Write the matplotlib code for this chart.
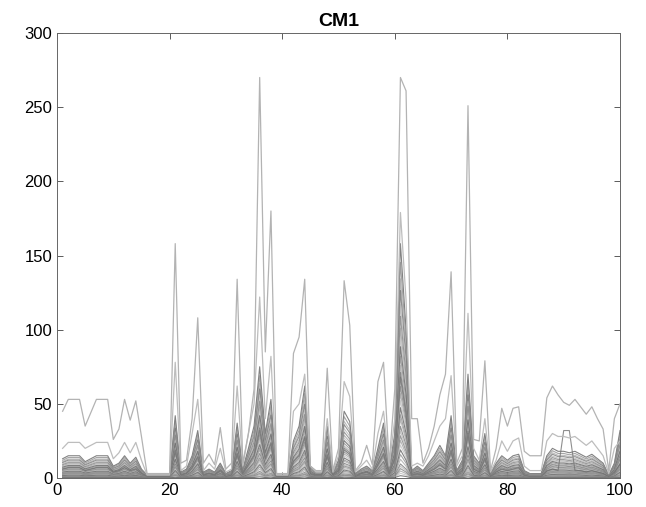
import numpy as np
import matplotlib
matplotlib.use("Agg")
import matplotlib.pyplot as plt

plt.rcParams['font.family'] = ['Liberation Sans', 'DejaVu Sans']

x_index = list(range(1, 101))

upper_line = [45, 53, 53, 53, 35, 44, 53, 53, 53, 26, 33, 53, 39, 52, 28, 3, 3, 3, 3, 3,
              158, 10, 12, 40, 108, 10, 16, 9, 34, 6, 10, 134, 10, 30, 60, 270, 85, 180, 3, 3,
              3, 84, 95, 134, 8, 5, 5, 74, 5, 20, 133, 103, 5, 10, 22, 9, 65, 78, 10, 60,
              270, 261, 40, 40, 10, 20, 35, 56, 70, 139, 10, 20, 251, 26, 25, 79, 5, 20, 47, 35,
              47, 48, 18, 15, 15, 15, 54, 62, 56, 51, 49, 53, 48, 43, 48, 40, 33, 5, 40, 50]

second_line = [20, 24, 24, 24, 20, 22, 24, 24, 24, 13, 17, 24, 17, 24, 12, 2, 2, 2, 2, 2,
               78, 5, 8, 30, 53, 5, 10, 6, 20, 4, 6, 62, 8, 30, 50, 122, 40, 82, 2, 2,
               2, 45, 50, 70, 8, 4, 4, 40, 4, 15, 65, 55, 4, 8, 12, 6, 30, 45, 8, 40,
               179, 120, 8, 10, 8, 15, 25, 35, 40, 69, 8, 15, 111, 20, 12, 40, 4, 12, 25, 18,
               25, 27, 8, 5, 5, 5, 25, 30, 28, 28, 27, 28, 25, 22, 25, 20, 15, 3, 20, 25]

plateau_line = [6, 7, 7, 7, 5, 6, 7, 7, 7, 4, 5, 7, 5, 6, 3, 1, 1, 1, 1, 1,
                18, 2, 3, 7, 14, 2, 3, 2, 5, 1, 2, 16, 3, 9, 15, 32, 13, 23, 1, 1,
                1, 11, 15, 27, 3, 2, 2, 15, 2, 5, 19, 16, 1, 3, 4, 2, 9, 16, 3, 13,
                68, 43, 2, 3, 2, 4, 6, 9, 6, 18, 2, 5, 30, 6, 4, 13, 1, 4, 6, 5,
                6, 7, 2, 1, 1, 1, 5, 6, 5, 32, 32, 5, 5, 4, 5, 4, 3, 1, 4, 9]

bundle_profile = [13, 15, 15, 15, 11, 13, 15, 15, 15, 8, 10, 15, 10, 14, 6, 2, 2, 2, 2, 2,
                  42, 4, 6, 15, 32, 4, 6, 4, 10, 3, 5, 37, 6, 20, 35, 75, 30, 53, 2, 2,
                  2, 25, 35, 62, 8, 4, 4, 35, 4, 12, 45, 38, 3, 6, 8, 5, 20, 37, 6, 30,
                  158, 100, 5, 8, 5, 10, 15, 22, 15, 42, 5, 12, 70, 15, 10, 30, 3, 10, 15, 12,
                  15, 16, 5, 3, 3, 3, 15, 20, 18, 18, 17, 18, 16, 14, 16, 13, 10, 2, 10, 32]

bundle_gains = [1.00, 0.92, 0.85, 0.80, 0.74, 0.69, 0.64, 0.60, 0.56, 0.52, 0.48, 0.45,
                0.42, 0.39, 0.36, 0.33, 0.30, 0.27, 0.25, 0.22, 0.20, 0.18, 0.16, 0.14,
                0.12, 0.10, 0.08, 0.06, 0.05, 0.04, 0.03, 0.02, 0.01]

bundle_shades = ['0.30', '0.50', '0.62', '0.40', '0.68', '0.45', '0.58', '0.72']

x_ticks = [0, 20, 40, 60, 80, 100]
y_ticks = [0, 50, 100, 150, 200, 250, 300]

fig = plt.figure(figsize=(6.46, 5.07), dpi=100)
ax = fig.add_axes([57 / 646, 29 / 507, 563 / 646, 445 / 507])

xs = np.array(x_index)
profile = np.array(bundle_profile, dtype=float)
for i, g in enumerate(bundle_gains):
    ax.plot(xs, profile * g, color=bundle_shades[i % len(bundle_shades)],
            lw=0.8, alpha=0.7)

ax.plot(xs, plateau_line, color='0.45', lw=0.8, alpha=0.8)
ax.plot(xs, second_line, color='0.74', lw=0.9)
ax.plot(xs, upper_line, color='0.70', lw=0.9)

ax.set_xlim(0, 100)
ax.set_ylim(0, 300)
ax.set_xticks(x_ticks)
ax.set_yticks(y_ticks)
ax.tick_params(direction='in', length=4, width=0.6, color='0.25',
               labelsize=12, top=True, right=True, labeltop=False, labelright=False)
for s in ax.spines.values():
    s.set_color('0.4')
    s.set_linewidth(0.7)
ax.set_title('CM1', fontsize=14, fontweight='bold', pad=5)

fig.savefig('out.png', dpi=100)
